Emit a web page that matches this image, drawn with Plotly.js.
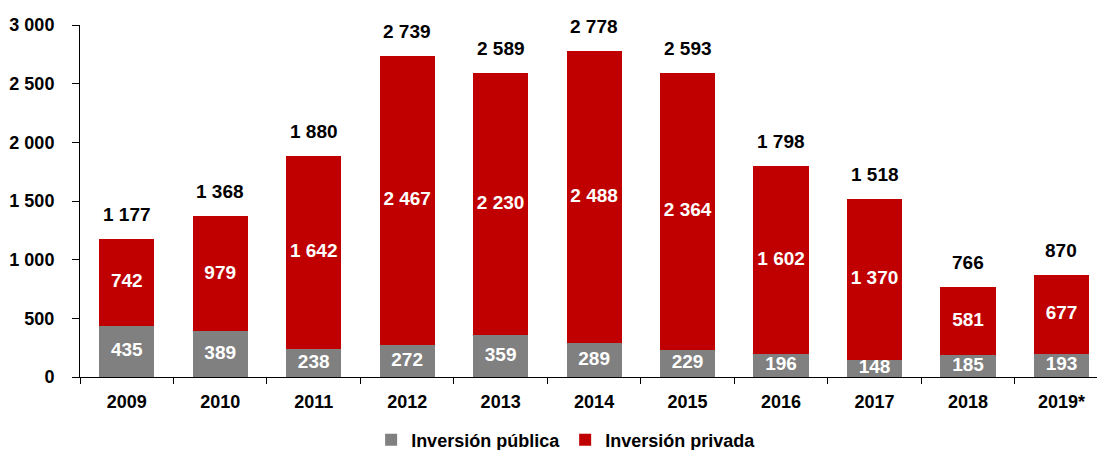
<!DOCTYPE html>
<html>
<head>
<meta charset="utf-8">
<script src="https://cdn.plot.ly/plotly-3.0.1.min.js"></script>
<style>html,body{margin:0;padding:0;overflow:hidden;background:#fff}</style>
</head>
<body>
<div id="chart" style="width:1097px;height:450px"></div>
<script>
const years = ['2009','2010','2011','2012','2013','2014','2015','2016','2017','2018','2019*'];
const publica = [435, 389, 238, 272, 359, 289, 229, 196, 148, 185, 193];
const privada = [742, 979, 1642, 2467, 2230, 2488, 2364, 1602, 1370, 581, 677];
const totals = [1177, 1368, 1880, 2739, 2589, 2778, 2593, 1798, 1518, 766, 870];

const fmt = n => String(n).replace(/\B(?=(\d{3})+(?!\d))/g, ' ');
const FONT = 'Liberation Sans, Arial, sans-serif';

const traces = [
  {type:'bar', name:'Inversión pública', x:years, y:publica,
   marker:{color:'#808080'}, hoverinfo:'skip'},
  {type:'bar', name:'Inversión privada', x:years, y:privada,
   marker:{color:'#C00000'}, hoverinfo:'skip'},
  {type:'scatter', mode:'text', x:years, y:publica.map(v => v/2),
   text:publica.map(fmt), textposition:'middle center', cliponaxis:true,
   textfont:{family:FONT, size:19, color:'#ffffff', weight:'bold'},
   showlegend:false, hoverinfo:'skip'},
  {type:'scatter', mode:'text', x:years, y:privada.map((v,i) => publica[i] + v/2),
   text:privada.map(fmt), textposition:'middle center', cliponaxis:true,
   textfont:{family:FONT, size:19, color:'#ffffff', weight:'bold'},
   showlegend:false, hoverinfo:'skip'}
];

const annotations = years.map((y,i) => ({
  x:i, y:publica[i] + privada[i], xref:'x', yref:'y',
  text:fmt(totals[i]), showarrow:false, yanchor:'bottom', yshift:12,
  font:{family:FONT, size:19, color:'#000000', weight:'bold'}
}));

const layout = {
  width:1097, height:450,
  margin:{l:80, r:0, t:25, b:73, autoexpand:false},
  barmode:'stack', bargap:0.41,
  separators:'. ',
  paper_bgcolor:'#ffffff', plot_bgcolor:'#ffffff',
  font:{family:FONT, color:'#000000'},
  xaxis:{type:'category', range:[-0.5, 10.38], showline:true, linecolor:'#000000', linewidth:1,
         ticks:'outside', tickson:'boundaries', ticklen:6, tickcolor:'#000000',
         showgrid:false, ticklabelstandoff:8, automargin:false,
         tickfont:{family:FONT, size:18, color:'#000000', weight:'bold'}},
  yaxis:{range:[0,3000], dtick:500, tickformat:',d', showline:true, linecolor:'#000000', linewidth:1,
         ticks:'outside', ticklen:7, tickcolor:'#000000', showgrid:false, zeroline:false,
         ticklabelstandoff:14, automargin:false,
         tickfont:{family:FONT, size:18, color:'#000000', weight:'bold'}},
  legend:{orientation:'h', traceorder:'normal', x:0.478, xanchor:'center',
          yref:'container', y:0.022, yanchor:'middle',
          font:{family:FONT, size:18, color:'#000000', weight:'bold'}, itemwidth:30},
  annotations:annotations,
  showlegend:true
};

Plotly.newPlot('chart', traces, layout, {displayModeBar:false, staticPlot:true});
</script>
</body>
</html>
